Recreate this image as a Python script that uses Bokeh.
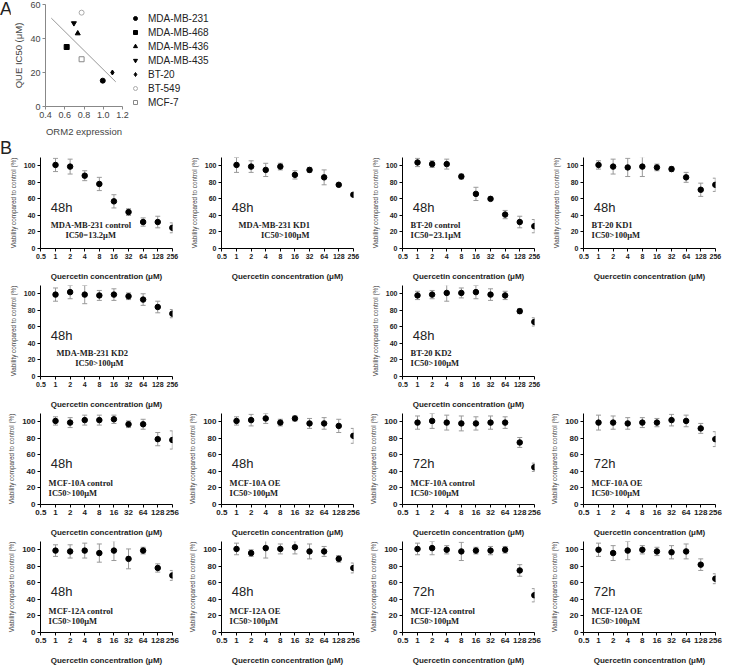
from bokeh.plotting import figure
from bokeh.models import (ColumnDataSource, Whisker, TeeHead, FixedTicker, Range1d,
                          Label, Legend, LegendItem, Spacer, Div)
from bokeh.layouts import column, row
from bokeh.embed import file_html
from bokeh.resources import INLINE

# ---------------- Panel A data ----------------
cell_lines = ["MDA-MB-231", "MDA-MB-468", "MDA-MB-436", "MDA-MB-435", "BT-20", "BT-549", "MCF-7"]
orm2_expr = [0.995, 0.62, 0.735, 0.695, 1.095, 0.775, 0.775]
que_ic50 = [15.2, 35.0, 43.0, 49.0, 20.0, 55.2, 27.8]
fit_x = [0.46, 1.13]
fit_y = [52.0, 14.5]
a_x_ticks = [0.4, 0.6, 0.8, 1.0, 1.2]
a_x_labels = ["0.4", "0.6", "0.8", "1.0", "1.2"]
a_y_ticks = [0, 20, 40, 60]

# ---------------- Panel B data ----------------
conc = [1, 2, 4, 8, 16, 32, 64, 128, 256]
x_ticks = [0.5, 1, 2, 4, 8, 16, 32, 64, 128, 256]
x_tick_labels = ["0.5", "1", "2", "4", "8", "16", "32", "64", "128", "256"]
y_ticks = [0, 20, 40, 60, 80, 100]

mb231_ctrl_48 = [101, 99, 88, 78, 57, 44, 32, 32, 25]
mb231_ctrl_48_err = [8, 9, 6, 8, 8, 4, 5, 7, 6]
mb231_kd1_48 = [101, 99, 95, 99, 89, 95, 86, 77, 65]
mb231_kd1_48_err = [9, 7, 8, 4, 5, 3, 9, 1, 2]
bt20_ctrl_48 = [104, 102, 102, 87, 66, 60, 41, 32, 27]
bt20_ctrl_48_err = [5, 4, 6, 3, 8, 2, 5, 7, 8]
bt20_kd1_48 = [101, 99, 98, 99, 98, 96, 86, 71, 77]
bt20_kd1_48_err = [5, 9, 11, 12, 4, 3, 6, 8, 8]
mb231_kd2_48 = [99, 102, 99, 98, 99, 97, 93, 84, 76]
mb231_kd2_48_err = [8, 8, 11, 6, 7, 4, 7, 7, 5]
bt20_kd2_48 = [98, 99, 101, 101, 102, 99, 98, 79, 66]
bt20_kd2_48_err = [5, 5, 10, 6, 8, 7, 5, 3, 5]
mcf10a_ctrl_48 = [101, 99, 102, 102, 103, 97, 97, 79, 78]
mcf10a_ctrl_48_err = [5, 6, 6, 6, 5, 4, 6, 8, 11]
mcf10a_oe_48 = [101, 102, 104, 99, 104, 98, 98, 95, 83]
mcf10a_oe_48_err = [5, 7, 6, 4, 3, 6, 7, 8, 9]
mcf10a_ctrl_72 = [99, 101, 99, 98, 98, 99, 99, 75, 45]
mcf10a_ctrl_72_err = [8, 9, 9, 9, 8, 8, 7, 6, 5]
mcf10a_oe_72 = [99, 99, 98, 99, 99, 102, 101, 92, 79]
mcf10a_oe_72_err = [9, 8, 7, 6, 5, 7, 7, 6, 9]
mcf12a_ctrl_48 = [99, 98, 99, 96, 99, 89, 99, 78, 69]
mcf12a_ctrl_48_err = [7, 8, 9, 11, 12, 12, 4, 5, 6]
mcf12a_oe_48 = [101, 96, 102, 101, 103, 98, 98, 89, 78]
mcf12a_oe_48_err = [7, 4, 12, 6, 8, 9, 6, 4, 6]
mcf12a_ctrl_72 = [101, 102, 100, 98, 99, 99, 100, 75, 45]
mcf12a_ctrl_72_err = [7, 8, 5, 11, 4, 5, 4, 7, 8]
mcf12a_oe_72 = [100, 96, 99, 100, 98, 97, 98, 82, 65]
mcf12a_oe_72_err = [8, 9, 11, 5, 5, 8, 9, 7, 6]

SANS = "Liberation Sans"
SERIF = "Liberation Serif"
LETTER_STYLE = {"font-family": "Liberation Sans", "font-size": "18px", "color": "#222222",
                "line-height": "18px"}

# ---------------- Panel A ----------------
pA = figure(frame_width=77, frame_height=102, min_border_left=29, min_border_top=4,
            min_border_bottom=30, min_border_right=4,
            x_range=Range1d(0.4, 1.2), y_range=Range1d(0, 60),
            output_backend="svg", toolbar_location=None)
pA.outline_line_color = None
pA.grid.visible = False
pA.xaxis.ticker = FixedTicker(ticks=a_x_ticks)
pA.xaxis.major_label_overrides = {t: l for t, l in zip(a_x_ticks, a_x_labels)}
pA.yaxis.ticker = FixedTicker(ticks=a_y_ticks)
pA.xaxis.axis_label = "ORM2 expression"
pA.yaxis.axis_label = "QUE IC50 (μM)"
for ax in (pA.xaxis[0], pA.yaxis[0]):
    ax.axis_line_color = "#888888"
    ax.major_tick_line_color = "#888888"
    ax.minor_tick_line_color = None
    ax.major_tick_in = 0
    ax.major_tick_out = 3
    ax.major_label_text_font = SANS
    ax.major_label_text_font_size = "9px"
    ax.major_label_text_color = "#444444"
    ax.axis_label_text_font = SANS
    ax.axis_label_text_font_size = "9.5px"
    ax.axis_label_text_font_style = "normal"
    ax.axis_label_text_color = "#444444"
    ax.axis_label_standoff = 3
    ax.major_label_standoff = 2
pA.xaxis.axis_label_standoff = 5

pA.line(fit_x, fit_y, line_color="#999999", line_width=1)

styles = [
    ("circle", "black", "black", 5),
    ("square", "black", "black", 5),
    ("triangle", "black", "black", 5),
    ("inverted_triangle", "black", "black", 5),
    ("diamond", "black", "black", 5),
    ("circle", "#aaaaaa", None, 5),
    ("square", "#888888", None, 5),
]
items = []
for i, name in enumerate(cell_lines):
    mk, lc, fc, sz = styles[i]
    r = pA.scatter([orm2_expr[i]], [que_ic50[i]], marker=mk, size=sz,
                   line_color=lc, fill_color=fc, line_width=1)
    items.append(LegendItem(label=name, renderers=[r]))
leg = Legend(items=items, location="top_left", border_line_color=None,
             background_fill_alpha=0, label_text_font=SANS, label_text_font_size="10px",
             label_text_color="#222222", glyph_width=10, glyph_height=12,
             label_height=12, spacing=2, padding=0, margin=8, label_standoff=8)
pA.add_layout(leg, "right")

divA = Div(text="A", width=10, height=20, margin=0, styles=LETTER_STYLE)
divB = Div(text="B", width=20, height=16, margin=0, styles=LETTER_STYLE)

LEFT = 0.72


def make_panel(mean, err, time_txt, line1, line2, x1, x2, tick_px, row_low):
    p = figure(frame_width=132, frame_height=91, min_border_left=40, min_border_right=9,
               min_border_top=2, min_border_bottom=34,
               x_axis_type="log", x_range=Range1d(0.49, 258), y_range=Range1d(0, 110),
               output_backend="svg", toolbar_location=None)
    p.outline_line_color = None
    p.grid.visible = False
    p.xaxis.ticker = FixedTicker(ticks=x_ticks)
    p.xaxis.major_label_overrides = {t: l for t, l in zip(x_ticks, x_tick_labels)}
    p.yaxis.ticker = FixedTicker(ticks=y_ticks)
    p.xaxis.axis_label = "Quercetin concentration (μM)"
    p.yaxis.axis_label = "Viability compared to control (%)"
    for ax in (p.xaxis[0], p.yaxis[0]):
        ax.axis_line_color = "black"
        ax.major_tick_line_color = "black"
        ax.minor_tick_line_color = None
        ax.major_tick_in = 0
        ax.major_tick_out = 3
        ax.major_label_text_font = SANS
        ax.major_label_text_font_size = tick_px
        ax.major_label_text_font_style = "bold"
        ax.major_label_text_color = "#222222"
        ax.major_label_standoff = 2
        ax.axis_label_text_font = SANS
    p.xaxis.axis_label_text_font_size = "8px"
    p.xaxis.axis_label_text_font_style = "bold"
    p.xaxis.axis_label_text_color = "#222222"
    p.xaxis.axis_label_standoff = 10
    p.yaxis.axis_label_text_font_size = "6.3px"
    p.yaxis.axis_label_text_font_style = "normal"
    p.yaxis.axis_label_text_color = "#444444"
    p.yaxis.axis_label_standoff = 4

    src = ColumnDataSource(dict(x=conc, y=mean,
                                upper=[m + e for m, e in zip(mean, err)],
                                lower=[m - e for m, e in zip(mean, err)]))
    w = Whisker(base="x", upper="upper", lower="lower", source=src,
                line_color="#999999", line_width=1,
                upper_head=TeeHead(size=5, line_color="#999999", line_width=1),
                lower_head=TeeHead(size=5, line_color="#999999", line_width=1))
    p.add_layout(w)
    p.scatter("x", "y", source=src, size=5.5, color="black")

    y1, y2 = (22, 10) if not row_low else (20, 8)
    p.add_layout(Label(x=0.8, y=40, text=time_txt, text_font=SANS, text_font_size="13px",
                       text_color="#222222"))
    p.add_layout(Label(x=x1, y=y1, text=line1, text_font=SERIF, text_font_size="8.5px",
                       text_font_style="bold", text_color="#222222"))
    p.add_layout(Label(x=x2, y=y2, text=line2, text_font=SERIF, text_font_size="8.5px",
                       text_font_style="bold", text_color="#222222"))
    return p


H = 127
r1 = [
    make_panel(mb231_ctrl_48, mb231_ctrl_48_err, "48h", "MDA-MB-231 control", "IC50=13.2μM", 0.8, 1.6, "7px", False),
    make_panel(mb231_kd1_48, mb231_kd1_48_err, "48h", "MDA-MB-231 KD1", "IC50>100μM", 1.1, 3.2, "7px", False),
    make_panel(bt20_ctrl_48, bt20_ctrl_48_err, "48h", "BT-20 control", "IC50=23.1μM", LEFT, LEFT, "7px", False),
    make_panel(bt20_kd1_48, bt20_kd1_48_err, "48h", "BT-20 KD1", "IC50>100μM", LEFT, LEFT, "7px", False),
]
r2 = [
    make_panel(mb231_kd2_48, mb231_kd2_48_err, "48h", "MDA-MB-231 KD2", "IC50>100μM", 1.05, 2.55, "7px", False),
    Spacer(width=181, height=H),
    make_panel(bt20_kd2_48, bt20_kd2_48_err, "48h", "BT-20 KD2", "IC50>100μM", LEFT, LEFT, "7px", False),
    Spacer(width=181, height=H),
]
r3 = [
    make_panel(mcf10a_ctrl_48, mcf10a_ctrl_48_err, "48h", "MCF-10A control", "IC50>100μM", LEFT, LEFT, "8px", True),
    make_panel(mcf10a_oe_48, mcf10a_oe_48_err, "48h", "MCF-10A OE", "IC50>100μM", LEFT, LEFT, "8px", True),
    make_panel(mcf10a_ctrl_72, mcf10a_ctrl_72_err, "72h", "MCF-10A control", "IC50>100μM", LEFT, LEFT, "8px", True),
    make_panel(mcf10a_oe_72, mcf10a_oe_72_err, "72h", "MCF-10A OE", "IC50>100μM", LEFT, LEFT, "8px", True),
]
r4 = [
    make_panel(mcf12a_ctrl_48, mcf12a_ctrl_48_err, "48h", "MCF-12A control", "IC50>100μM", LEFT, LEFT, "8px", True),
    make_panel(mcf12a_oe_48, mcf12a_oe_48_err, "48h", "MCF-12A OE", "IC50>100μM", LEFT, LEFT, "8px", True),
    make_panel(mcf12a_ctrl_72, mcf12a_ctrl_72_err, "72h", "MCF-12A control", "IC50>100μM", LEFT, LEFT, "8px", True),
    make_panel(mcf12a_oe_72, mcf12a_oe_72_err, "72h", "MCF-12A OE", "IC50>100μM", LEFT, LEFT, "8px", True),
]

layout = column(row(divA, pA), divB, row(*r1), row(*r2), row(*r3), row(*r4))

open("out.html", "w").write(file_html(layout, INLINE))
